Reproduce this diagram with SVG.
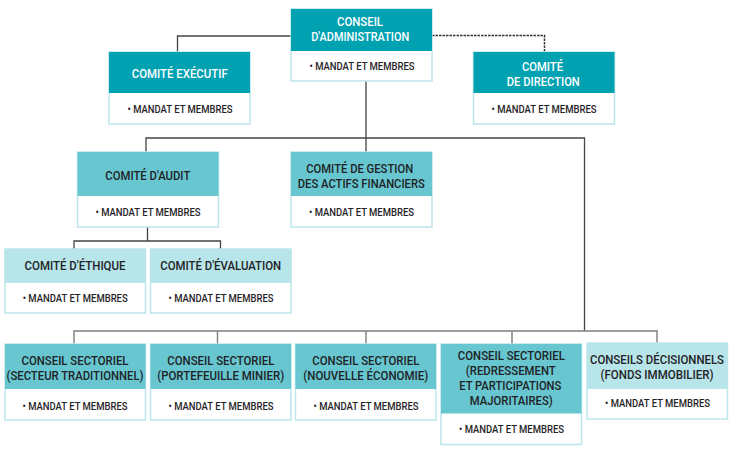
<svg xmlns="http://www.w3.org/2000/svg" width="732" height="454" viewBox="0 0 732 454">
<style>
.box{fill:#fff;stroke:#bde6eb;stroke-width:1.5}
.hd1{fill:#00a1b1}
.hd2{fill:#67c6d0}
.hd3{fill:#b8e5ea}
text{font-family:Roboto,"Liberation Sans",sans-serif;text-anchor:middle;font-weight:500}
.t{font-size:12.8px;fill:#1f2326}
.tw{font-size:12.8px;fill:#fff}
.b{font-size:11.2px;fill:#1f2326}
.ln{fill:none;stroke:#444;stroke-width:1.3}
.lg{fill:none;stroke:#7d7d7d;stroke-width:1.4}
.dash{fill:none;stroke:#333;stroke-width:1.5;stroke-dasharray:2.5 1}
</style>
<g id="connectors">
<path class="ln" d="M291 36H177.5V52"/>
<path class="dash" d="M432 35.5H544.5V52"/>
<path class="ln" d="M366 81V152"/>
<path class="ln" d="M146 152V138H584.5V331"/>
<path class="ln" d="M147.5 227V241M74 249V241H220.5V249"/>
<path class="lg" d="M74 344V331H657V343M217.5 331V344M366 331V344M512 331V344"/>
</g>
<g id="conseil-administration">
<rect class="box" x="291" y="9" width="141" height="72"/>
<rect class="hd1" x="291" y="9" width="141" height="42"/>
<text class="tw" x="360" y="26" textLength="46" lengthAdjust="spacingAndGlyphs">CONSEIL</text>
<text class="tw" x="360.2" y="40.7" textLength="98" lengthAdjust="spacingAndGlyphs">D'ADMINISTRATION</text>
<text class="b" x="362" y="70" textLength="105" lengthAdjust="spacingAndGlyphs">• MANDAT ET MEMBRES</text>
</g>
<g id="comite-executif">
<rect class="box" x="109" y="52" width="141" height="72"/>
<rect class="hd1" x="109" y="52" width="141" height="41"/>
<text class="tw" x="179.7" y="78.3" textLength="96" lengthAdjust="spacingAndGlyphs">COMITÉ EXÉCUTIF</text>
<text class="b" x="180" y="112.7" textLength="105" lengthAdjust="spacingAndGlyphs">• MANDAT ET MEMBRES</text>
</g>
<g id="comite-direction">
<rect class="box" x="473.5" y="52" width="141" height="72"/>
<rect class="hd1" x="473.5" y="52" width="141" height="41"/>
<text class="tw" x="542.5" y="70.7" textLength="41" lengthAdjust="spacingAndGlyphs">COMITÉ</text>
<text class="tw" x="543.3" y="85.7" textLength="73" lengthAdjust="spacingAndGlyphs">DE DIRECTION</text>
<text class="b" x="544" y="112.7" textLength="105" lengthAdjust="spacingAndGlyphs">• MANDAT ET MEMBRES</text>
</g>
<g id="comite-audit">
<rect class="box" x="77.5" y="152" width="141" height="75"/>
<rect class="hd2" x="77.5" y="152" width="141" height="44"/>
<text class="t" x="147.8" y="180" textLength="85" lengthAdjust="spacingAndGlyphs">COMITÉ D'AUDIT</text>
<text class="b" x="148" y="216" textLength="105" lengthAdjust="spacingAndGlyphs">• MANDAT ET MEMBRES</text>
</g>
<g id="comite-gestion">
<rect class="box" x="291" y="152" width="141" height="75"/>
<rect class="hd2" x="291" y="152" width="141" height="44"/>
<text class="t" x="359.7" y="173.3" textLength="107" lengthAdjust="spacingAndGlyphs">COMITÉ DE GESTION</text>
<text class="t" x="361.3" y="187.7" textLength="127" lengthAdjust="spacingAndGlyphs">DES ACTIFS FINANCIERS</text>
<text class="b" x="361.5" y="216" textLength="105" lengthAdjust="spacingAndGlyphs">• MANDAT ET MEMBRES</text>
</g>
<g id="comite-ethique">
<rect class="box" x="5" y="249" width="140.5" height="64"/>
<rect class="hd3" x="5" y="249" width="140.5" height="34"/>
<text class="t" x="75" y="270" textLength="101" lengthAdjust="spacingAndGlyphs">COMITÉ D'ÉTHIQUE</text>
<text class="b" x="75.2" y="301.7" textLength="105" lengthAdjust="spacingAndGlyphs">• MANDAT ET MEMBRES</text>
</g>
<g id="comite-evaluation">
<rect class="box" x="150.5" y="249" width="140.5" height="64"/>
<rect class="hd3" x="150.5" y="249" width="140.5" height="34"/>
<text class="t" x="220.7" y="270" textLength="121" lengthAdjust="spacingAndGlyphs">COMITÉ D'ÉVALUATION</text>
<text class="b" x="221" y="301.7" textLength="105" lengthAdjust="spacingAndGlyphs">• MANDAT ET MEMBRES</text>
</g>
<g id="conseil-traditionnel">
<rect class="box" x="5" y="344" width="140.5" height="76"/>
<rect class="hd2" x="5" y="344" width="140.5" height="45"/>
<text class="t" x="75" y="365" textLength="107" lengthAdjust="spacingAndGlyphs">CONSEIL SECTORIEL</text>
<text class="t" x="75" y="380" textLength="137" lengthAdjust="spacingAndGlyphs">(SECTEUR TRADITIONNEL)</text>
<text class="b" x="75" y="410" textLength="105" lengthAdjust="spacingAndGlyphs">• MANDAT ET MEMBRES</text>
</g>
<g id="conseil-minier">
<rect class="box" x="150.5" y="344" width="140.5" height="76"/>
<rect class="hd2" x="150.5" y="344" width="140.5" height="45"/>
<text class="t" x="220.8" y="365" textLength="107" lengthAdjust="spacingAndGlyphs">CONSEIL SECTORIEL</text>
<text class="t" x="220.7" y="380" textLength="127" lengthAdjust="spacingAndGlyphs">(PORTEFEUILLE MINIER)</text>
<text class="b" x="221" y="410" textLength="105" lengthAdjust="spacingAndGlyphs">• MANDAT ET MEMBRES</text>
</g>
<g id="conseil-nouvelle-economie">
<rect class="box" x="295.5" y="344" width="140.5" height="76"/>
<rect class="hd2" x="295.5" y="344" width="140.5" height="45"/>
<text class="t" x="365.8" y="365" textLength="107" lengthAdjust="spacingAndGlyphs">CONSEIL SECTORIEL</text>
<text class="t" x="365.8" y="380" textLength="125" lengthAdjust="spacingAndGlyphs">(NOUVELLE ÉCONOMIE)</text>
<text class="b" x="366" y="410" textLength="105" lengthAdjust="spacingAndGlyphs">• MANDAT ET MEMBRES</text>
</g>
<g id="conseil-redressement">
<rect class="box" x="441" y="344" width="140.5" height="100.5"/>
<rect class="hd2" x="441" y="344" width="140.5" height="69.5"/>
<text class="t" x="511.3" y="360" textLength="107" lengthAdjust="spacingAndGlyphs">CONSEIL SECTORIEL</text>
<text class="t" x="510.8" y="375" textLength="90" lengthAdjust="spacingAndGlyphs">(REDRESSEMENT</text>
<text class="t" x="510.3" y="389.5" textLength="102" lengthAdjust="spacingAndGlyphs">ET PARTICIPATIONS</text>
<text class="t" x="511.3" y="405" textLength="83" lengthAdjust="spacingAndGlyphs">MAJORITAIRES)</text>
<text class="b" x="511.5" y="433.3" textLength="105" lengthAdjust="spacingAndGlyphs">• MANDAT ET MEMBRES</text>
</g>
<g id="conseils-decisionnels">
<rect class="box" x="587" y="343" width="140.5" height="76"/>
<rect class="hd3" x="587" y="343" width="140.5" height="46"/>
<text class="t" x="657" y="364.3" textLength="134" lengthAdjust="spacingAndGlyphs">CONSEILS DÉCISIONNELS</text>
<text class="t" x="657" y="379.3" textLength="113" lengthAdjust="spacingAndGlyphs">(FONDS IMMOBILIER)</text>
<text class="b" x="657.5" y="407.3" textLength="105" lengthAdjust="spacingAndGlyphs">• MANDAT ET MEMBRES</text>
</g>
</svg>
